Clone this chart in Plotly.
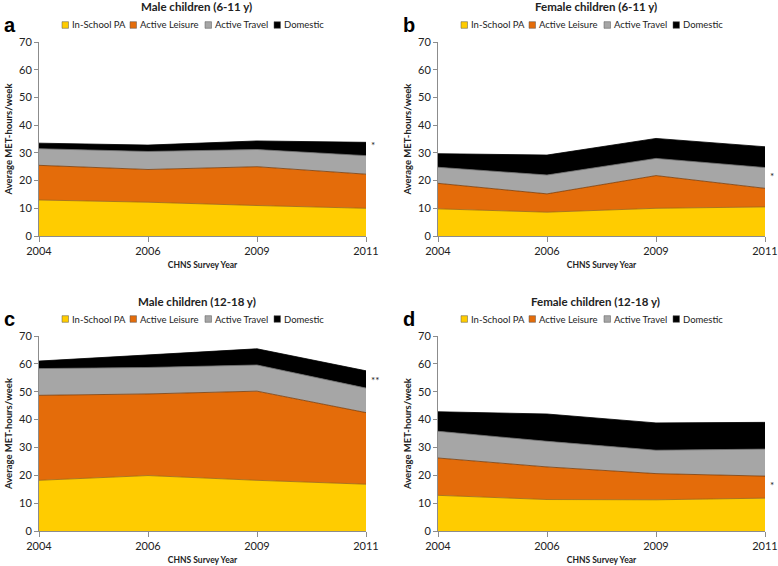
import plotly.graph_objects as go

years = ["2004", "2006", "2009", "2011"]
series_names = ["In-School PA", "Active Leisure", "Active Travel", "Domestic"]

# panel a: Male children (6-11 y)
a_school = [13.0, 12.2, 11.0, 10.0]
a_leisure = [12.5, 11.8, 14.0, 12.3]
a_travel = [6.0, 6.5, 6.2, 6.7]
a_domestic = [2.0, 2.3, 3.1, 4.8]

# panel b: Female children (6-11 y)
b_school = [9.8, 8.6, 10.0, 10.5]
b_leisure = [9.2, 6.6, 11.8, 6.7]
b_travel = [5.8, 6.8, 6.2, 7.5]
b_domestic = [4.9, 7.2, 7.2, 7.5]

# panel c: Male children (12-18 y)
c_school = [18.2, 19.9, 18.2, 16.8]
c_leisure = [30.5, 29.3, 32.0, 25.7]
c_travel = [9.6, 9.5, 9.4, 8.8]
c_domestic = [2.7, 4.5, 5.8, 6.2]

# panel d: Female children (12-18 y)
d_school = [12.8, 11.3, 11.2, 11.8]
d_leisure = [13.4, 11.7, 9.4, 7.9]
d_travel = [9.6, 9.2, 8.4, 9.7]
d_domestic = [7.0, 9.8, 9.8, 9.6]

titles = ["Male children (6-11 y)", "Female children (6-11 y)",
          "Male children (12-18 y)", "Female children (12-18 y)"]
letters = ["a", "b", "c", "d"]
sig_marks = ["*", "*", "**", "*"]
sig_y = [32.8, 21.6, 54.2, 16.5]

panels = [
    [a_school, a_leisure, a_travel, a_domestic],
    [b_school, b_leisure, b_travel, b_domestic],
    [c_school, c_leisure, c_travel, c_domestic],
    [d_school, d_leisure, d_travel, d_domestic],
]

fill_colors = ["#FFCC00", "#E46C0A", "#A6A6A6", "#000000"]
line_colors = ["#9A6A10", "#7A3A05", "#6F6F6F", "#000000"]

W, H = 778, 566
def px(x):
    return x / W
def py(y):
    return 1 - y / H

# plot areas in pixels: (x_left, x_right, y_top, y_bottom)
areas = [
    (39, 366, 42, 236),
    (438, 765, 42, 236),
    (39, 366, 336, 531),
    (438, 765, 336, 531),
]

FONT = "Lato, 'Liberation Sans', sans-serif"
fig = go.Figure()
layout = dict(
    width=W, height=H, autosize=False,
    margin=dict(l=0, r=0, t=0, b=0, autoexpand=False),
    paper_bgcolor="white", plot_bgcolor="white",
    showlegend=False,
    font=dict(family=FONT, color="#333333"),
)
annotations = []
shapes = []

for i, (vals, area) in enumerate(zip(panels, areas)):
    n = "" if i == 0 else str(i + 1)
    xa, ya = "x" + n, "y" + n
    for name, v, fc, lc in zip(series_names, vals, fill_colors, line_colors):
        fig.add_trace(go.Scatter(
            x=years, y=v, name=name, mode="lines",
            stackgroup="s" + str(i), fillcolor=fc,
            line=dict(color=lc, width=0.8),
            xaxis=xa, yaxis=ya, hoverinfo="skip",
        ))
    xl, xr, yt, yb = area
    layout["xaxis" + n] = dict(
        domain=[px(xl), px(xr)], anchor=ya, type="category",
        range=[0, 3], showgrid=False, zeroline=False, automargin=False,
        showline=True, linecolor="#8C8C8C", linewidth=1,
        ticks="outside", ticklen=5, tickcolor="#8C8C8C",
        tickfont=dict(size=11, color="#222222", family=FONT),
        title=dict(text="<b>CHNS Survey Year</b>", standoff=5,
                   font=dict(size=8.5, color="#222222", family=FONT)),
    )
    layout["yaxis" + n] = dict(
        domain=[py(yb), py(yt)], anchor=xa, range=[0, 70],
        tickvals=[0, 10, 20, 30, 40, 50, 60, 70],
        showgrid=False, zeroline=False, automargin=False,
        showline=True, linecolor="#8C8C8C", linewidth=1,
        ticks="outside", ticklen=4, tickcolor="#8C8C8C",
        tickfont=dict(size=11, color="#222222", family=FONT),
        title=dict(text="<b>Average MET-hours/week</b>", standoff=4,
                   font=dict(size=9.5, color="#222222", family=FONT)),
    )
    # panel title
    annotations.append(dict(
        x=px((xl + xr) / 2 - 6), y=py(yt - 35), xref="paper", yref="paper",
        text="<b>" + titles[i] + "</b>", showarrow=False,
        xanchor="center", yanchor="middle",
        font=dict(size=11.5, color="#222222", family=FONT)))
    # panel letter
    annotations.append(dict(
        x=px(xl - 37), y=py(yt - 17), xref="paper", yref="paper",
        text="<b>" + letters[i] + "</b>", showarrow=False,
        xanchor="left", yanchor="middle",
        font=dict(size=20, color="#000000", family="'Liberation Sans', Arial, sans-serif")))
    # significance mark
    annotations.append(dict(
        x=3, y=sig_y[i], xref=xa, yref=ya, text=sig_marks[i],
        showarrow=False, xanchor="left", xshift=3, yanchor="middle",
        font=dict(size=10, color="#222222", family=FONT)))
    # manual legend
    ly = yt - 17
    offsets = [23, 91, 166, 235]
    for j, (name, fc) in enumerate(zip(series_names, fill_colors)):
        sx = xl + offsets[j]
        shapes.append(dict(
            type="rect", xref="paper", yref="paper",
            x0=px(sx), x1=px(sx + 6.5), y0=py(ly + 3.3), y1=py(ly - 3.3),
            fillcolor=fc, line=dict(color="#555555", width=0.5)))
        annotations.append(dict(
            x=px(sx + 7.5), y=py(ly), xref="paper", yref="paper",
            text=name, showarrow=False, xanchor="left", yanchor="middle",
            font=dict(size=9.5, color="#222222", family=FONT)))

layout["annotations"] = annotations
layout["shapes"] = shapes
fig.update_layout(**layout)
fig.write_html(
    "out.html",
    config={"displayModeBar": False},
    post_script="document.body.style.margin='0';document.body.style.overflow='hidden';",
)
